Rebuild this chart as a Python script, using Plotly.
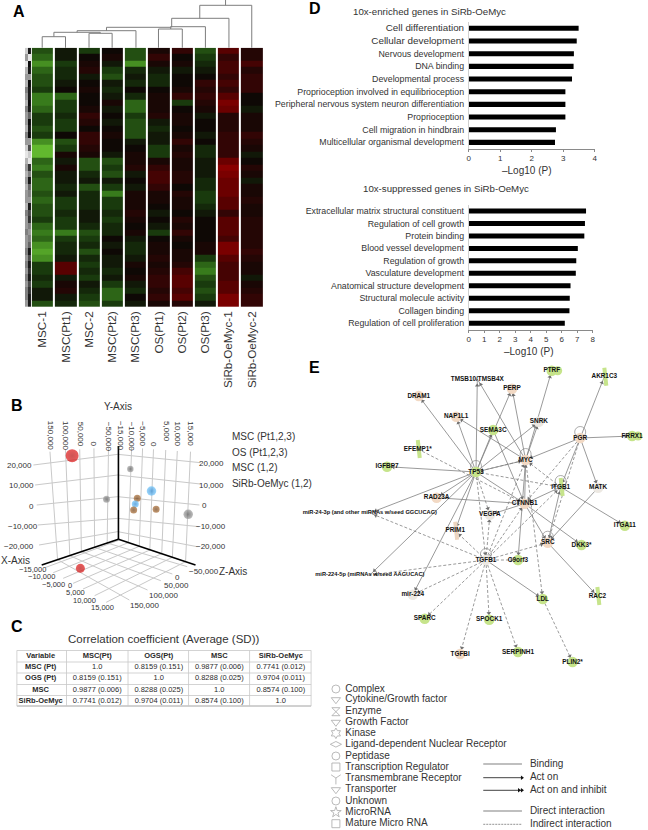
import math
import plotly.graph_objects as go

W, H = 648, 830
SANS = "Liberation Sans"
TXT = "#333333"

# ---------- Panel A ----------
sample_labels = ["MSC-1", "MSC(Pt1)", "MSC-2", "MSC(Pt2)", "MSC(Pt3)", "OS(Pt1)", "OS(Pt2)", "OS(Pt3)", "SiRb-OeMyc-1", "SiRb-OeMyc-2"]
col_msc1 = [-4,-5,-7,-5,-4,-4,-3,-6,-6,-5,-3,-3,-4,-3,-7,-9,-9,-5,-6,-4,-5,-5,-4,-5,-4,-4,-3,-5,-6,-5,-7,-8,-7,-3,-3,-2,-3,-1,-1,-4]
col_msc_pt1 = [-1,-1,-3,-2,-2,-1,0,-5,-3,-3,-2,-3,-3,0,-4,-3,1,-1,1,-1,-1,-2,-1,-3,-3,-2,-3,-3,-6,-3,-2,-2,-1,5,5,-1,1,2,-1,-2]
col_msc2 = [-3,0,1,2,-1,0,1,0,0,1,3,2,0,3,3,2,1,-4,-4,-2,-1,-4,-2,-2,-2,-1,-1,-2,-4,-3,-2,-4,-2,-3,-2,-3,-1,-2,-3,-4]
col_msc_pt2 = [0,1,-1,-3,-4,-1,-2,-1,1,-1,0,-1,0,1,0,0,-1,-4,-3,-4,-1,-3,-6,-3,-3,-2,-3,-2,-2,0,-1,0,-1,-1,-2,-1,-3,-5,-5,-3]
col_msc_pt3 = [-4,-4,-7,-2,-1,-2,0,-2,-5,-5,-3,-4,-4,-4,-1,0,1,1,2,-1,0,-1,1,1,1,2,1,0,1,-1,-2,-2,-1,1,0,1,-1,-2,0,-1]
col_os_pt1 = [1,3,1,-1,-2,-2,0,1,1,1,2,-1,-2,-1,-1,-3,-3,1,3,4,4,3,1,1,0,-1,0,-1,-3,0,1,1,2,1,2,3,3,2,3,1]
col_os_pt2 = [3,0,1,-1,0,0,1,3,-3,0,1,1,0,1,3,1,2,1,1,2,2,0,2,1,1,0,2,1,3,1,0,1,1,2,4,5,5,4,5,2]
col_os_pt3 = [-4,-3,-2,-1,0,3,2,3,2,1,-1,0,0,-1,0,-2,-2,-1,-1,-1,-2,-2,-3,-3,-2,-1,0,0,0,0,1,1,-3,-5,-6,-4,-3,-4,-3,-1]
col_sirb1 = [5,3,4,4,3,4,3,5,7,6,2,2,2,3,3,3,3,6,8,7,6,6,6,5,5,3,5,5,5,4,7,7,5,4,4,4,5,5,7,7]
col_sirb2 = [2,2,4,2,3,3,3,0,0,-1,1,1,1,3,2,1,-1,0,2,1,-1,1,1,2,1,1,2,2,2,2,2,3,2,1,1,-1,1,2,3,3]
columns = [col_msc1, col_msc_pt1, col_msc2, col_msc_pt2, col_msc_pt3, col_os_pt1, col_os_pt2, col_os_pt3, col_sirb1, col_sirb2]
strip_left = [.8,.6,.9,.7,.6,.7,.5,.6,.7,.5,.6,.6,.7,.5,.6,.8,.9,.7,.6,.7,.6,.7,.6,.6,.7,.5,.6,.6,.5,.6,.6,.5,.6,.5,.6,.5,.6,.5,.5,.6]
strip_right = [.1,.9,.05,.1,.6,.05,.1,.1,.05,.1,.4,.05,.1,.05,.6,.3,.8,.9,.2,.5,.1,.4,.5,.6,.1,.3,.2,.5,.6,.5,.4,.1,.3,.1,.2,.1,.3,.2,.1,.1]

# dendrogram merges: left x, right x, merge height, left base, right base
dend_merges = [
    (40.5, 64, 36.7, 47.7, 47.7),
    (87.7, 111, 33.3, 47.7, 47.7),
    (52.3, 99, 32.3, 36.7, 33.3),
    (75.7, 135, 30.7, 32.3, 47.7),
    (157.7, 181.7, 29, 47.7, 47.7),
    (170, 205, 26.7, 29, 47.7),
    (105.3, 170, 27.3, 30.7, 26.7),
    (171, 228.7, 18.3, 27.3, 47.7),
    (199.3, 251.7, 5.3, 18.3, 47.7),
]

# ---------- Panel B (coordinates are those of the projected view) ----------
pts_x = [212, 388, 316, 452, 409, 403, 398, 466, 563, 237]
pts_y = [197, 237, 328, 303, 325, 342, 360, 358, 373, 535]
pts_size = [13, 6.5, 7, 9.5, 7, 7, 7, 7, 9.5, 9]
pts_dark = ["#b80a0a", "#555555", "#555555", "#2a86d0", "#6d3c12", "#2a86d0", "#6d3c12", "#6d3c12", "#555555", "#b80a0a"]
pts_light = ["#e01616", "#a0a0a0", "#a0a0a0", "#70c4fa", "#a86a30", "#70c4fa", "#a86a30", "#a86a30", "#a0a0a0", "#e01616"]
grid_segments = [
    ((95,225),(350,193)), ((100,285),(350,255)), ((105,345),(350,320)), ((108,405),(350,385)), ((112,465),(350,425)),
    ((600,218),(350,193)), ((600,282),(350,255)), ((597,345),(350,320)), ((595,410),(350,385)), ((590,470),(350,425)),
    ((145,185),(168,509)), ((192,180),(205,497)), ((235,178),(240,485)), ((278,175),(280,472)), ((322,172),(318,459)),
    ((392,172),(382,458)), ((425,175),(415,469)), ((458,178),(447,480)), ((495,180),(483,491)), ((530,183),(515,502)), ((570,185),(555,515)),
    ((355,450),(130,533)), ((382,458),(155,548)), ((415,469),(185,565)), ((447,480),(215,580)), ((483,491),(245,597)), ((515,502),(280,617)), ((555,515),(315,637)),
    ((318,459),(560,530)), ((280,472),(515,552)), ((240,485),(480,572)), ((205,497),(440,600)), ((168,509),(385,630)),
]
axis_segments = [((352,168),(352,448)), ((352,448),(120,525)), ((352,448),(585,525))]
top_ticks = [("150,000",145), ("100,000",190), ("50,000",236), ("0",278), ("\u221250,000",322),
             ("\u221215,000",358), ("\u221210,000",392), ("\u22125,000",425), ("0",458), ("5,000",495), ("10,000",530), ("15,000",570)]
flat_ticks = [("20,000",52,225), ("10,000",58,285), ("0",90,348), ("\u221210,000",62,408), ("\u221220,000",50,470),
              ("20,000",632,220), ("10,000",632,285), ("0",612,345), ("\u221210,000",633,408), ("\u221220,000",633,470),
              ("\u221250,000",610,543), ("0",530,562), ("50,000",528,587), ("100,000",487,615), ("150,000",430,645)]
x_floor_ticks = [("\u221215,000",92,538), ("\u221210,000",120,560), ("\u22125,000",155,582), ("0",205,585), ("5,000",222,608), ("10,000",250,630), ("15,000",305,652)]
axis_names = [("Y-Axis",352,50), ("X-Axis",42,510), ("Z-Axis",697,543)]
b_legend = ["MSC (Pt1,2,3)", "OS (Pt1,2,3)", "MSC (1,2)", "SiRb-OeMyc (1,2)"]
b_legend_y = [437.7, 453, 468, 484]

# ---------- Panel C ----------
table_head = ["Variable", "MSC(Pt)", "OGS(Pt)", "MSC", "SiRb-OeMyc"]
table_row_names = ["MSC (Pt)", "OGS (Pt)", "MSC", "SiRb-OeMyc"]
table_values = [
    ["1.0", "0.8159 (0.151)", "0.9877 (0.006)", "0.7741 (0.012)"],
    ["0.8159 (0.151)", "1.0", "0.8288 (0.025)", "0.9704 (0.011)"],
    ["0.9877 (0.006)", "0.8288 (0.025)", "1.0", "0.8574 (0.100)"],
    ["0.7741 (0.012)", "0.9704 (0.011)", "0.8574 (0.100)", "1.0"],
]
table_cx = [39, 96, 158, 219, 281]
table_cy = [656, 667.5, 678.5, 690, 701]
table_hlines = [650.5, 662, 673, 684.5, 695.5, 706]
table_vlines = [15, 65, 127, 188, 249.5, 311.5]

# ---------- Panel D ----------
enriched_terms = ['<span style="font-size:9.8px">Cell differentiation</span>', '<span style="font-size:9.9px">Cellular development</span>', "Nervous development", "DNA binding", "Developmental process",
                  "Proprioception involved in equilibrioception", "Peripheral nervous system neuron differentiation", "Proprioception",
                  "Cell migration in hindbrain", "Multicellular organismal development"]
enriched_vals = [3.49, 3.43, 3.34, 3.33, 3.28, 3.07, 3.07, 3.07, 2.77, 2.74]
suppressed_terms = ["Extracellular matrix structural constituent", "Regulation of cell growth", "Protein binding", "Blood vessel development",
                    "Regulation of growth", "Vasculature development", "Anatomical structure development", "Structural molecule activity",
                    "Collagen binding", "Regulation of cell proliferation"]
suppressed_vals = [7.57, 7.5, 7.46, 7.04, 6.94, 6.91, 6.57, 6.52, 6.5, 6.2]

# ---------- Panel E ----------
G, P, L, N = "#c6e48b", "#f2d9c4", "#ece8e2", "rgba(255,255,255,0)"
nodes = {
    "PTRF": (554, 370.7, G), "AKR1C3": (607, 376.7, N), "TMSB10/TMSB4X": (479, 379, N), "PERP": (514, 388.7, P),
    "DRAM1": (420, 396, P), "NAP1L1": (457.7, 416.7, P), "SNRK": (541, 421.7, L), "SEMA3C": (495, 430, G),
    "PGR": (582.7, 438, P), "FRRX1": (635, 436, G), "EFEMP1*": (419, 449, N), "MYC": (527.7, 460, P),
    "IGFBP7": (388, 466.7, G), "TP53": (477.7, 472, G), "ITGB1": (563, 487, N), "MATK": (600.7, 487.7, L),
    "RAD23A": (438, 497.7, P), "CTNNB1": (526.7, 503.7, P), "miR-24-3p (and other miRNAs w/seed GGCUCAG)": (370.7, 513, N),
    "VEGFA": (491.7, 514.7, L), "ITGA11": (627.7, 525.7, G), "PRIM1": (456.7, 530.7, N), "SRC": (550, 542.7, P),
    "DKK3*": (584, 545, G), "TGFB1": (487.7, 560, L), "C9orf3": (520, 560, G),
    "miR-224-5p (miRNAs w/seed AAGUCAC)": (370.7, 575, N), "mir-224": (414, 594.7, L), "RAC2": (600, 596, N),
    "LDL": (545, 599, G), "SPARC": (426, 618.7, G), "SPOCK1": (491, 619.7, G), "TGFBI": (461.7, 654, P),
    "SERPINH1": (520, 652, G), "PLIN2*": (575, 662, G),
}
tall_nodes = {"AKR1C3": "#c6e48b", "EFEMP1*": "#c6e48b", "RAC2": "#c6e48b", "ITGB1": "#c6e48b", "PRIM1": "#ecd5c0"}
double_nodes = ["PTRF", "FRRX1"]
loop_nodes = ["TP53", "MYC", "PGR", "ITGB1", "TGFB1", "SRC"]
M24, M224 = "miR-24-3p (and other miRNAs w/seed GGCUCAG)", "miR-224-5p (miRNAs w/seed AAGUCAC)"
solid_edges = [("TP53","DRAM1"),("TP53","NAP1L1"),("TP53","TMSB10/TMSB4X"),("TP53","SEMA3C"),("TP53","PERP"),("TP53","SNRK"),("TP53","IGFBP7"),
    ("MYC","TMSB10/TMSB4X"),("MYC","PERP"),("MYC","NAP1L1"),("MYC","SNRK"),("MYC","PTRF"),("PGR","MYC"),("PGR","AKR1C3"),("PGR","FRRX1"),("PGR","MATK"),("PGR","ITGB1"),
    ("MYC","TP53"),("TP53","CTNNB1"),("TP53","RAD23A"),("TP53","PRIM1"),("TP53",M224),("TP53","mir-224"),("TP53",M24),
    ("RAD23A","CTNNB1"),("CTNNB1","MYC"),("ITGB1","CTNNB1"),("SRC","ITGB1"),("CTNNB1","SRC"),("ITGB1","ITGA11"),("MATK","SRC"),
    ("SEMA3C","CTNNB1"),("CTNNB1","VEGFA"),("TGFB1","LDL"),("MYC","C9orf3"),("SRC","RAC2"),("CTNNB1","DKK3*")]
dashed_edges = [("PGR","CTNNB1"),("PGR","SRC"),("TP53","ITGB1"),("TP53","VEGFA"),("TP53","TGFB1"),("ITGB1","MYC"),("EFEMP1*","CTNNB1"),
    ("TGFB1","CTNNB1"),("TGFB1","VEGFA"),("TGFB1","MYC"),("TGFB1","ITGB1"),("TGFB1","SRC"),("TGFB1","C9orf3"),("TGFB1","PRIM1"),("TGFB1",M24),("TGFB1",M224),
    ("TGFB1","mir-224"),("TGFB1","SPARC"),("TGFB1","TGFBI"),("TGFB1","SPOCK1"),("TGFB1","SERPINH1"),("LDL","PLIN2*"),("MYC","LDL"),("TP53","MYC")]

legend_left = ["Complex", "Cytokine/Growth factor", "Enzyme", "Growth Factor", "Kinase", "Ligand-dependent Nuclear Receptor", "Peptidase",
               "Transcription Regulator", "Transmembrane Receptor", "Transporter", "Unknown", "MicroRNA", "Mature Micro RNA"]
legend_left_y = [689, 699.7, 711.7, 722.3, 733.3, 744.3, 756, 767, 778, 789.7, 801, 812.3, 823.7]
legend_icons = ["circle-open", "triangle-down-open", "hourglass-open", "triangle-down-open", "hexagram-open", "diamond-wide-open", "circle-open",
                "square-open", "y-down-open", "triangle-down-open", "circle-open", "star-open", "square-open"]
legend_right = ["Binding", "Act on", "Act on and inhibit", "Direct interaction", "Indirect interaction"]
legend_right_y = [764, 777.7, 790.3, 811, 824.3]

panel_letters = [("A", 17, 11), ("B", 15, 405), ("C", 15, 626), ("D", 315, 8), ("E", 315, 367)]


def xdom(a, b):
    return [a / W, b / W]


def ydom(top, bottom):
    return [1 - bottom / H, 1 - top / H]


fig = go.Figure()
annos = []
shapes = []

green_red = [[0, "#62b82e"], [0.17, "#377a1c"], [0.35, "#16330c"], [0.5, "#0e0805"], [0.65, "#2c0505"], [0.83, "#6a0000"], [1, "#980000"]]
z = [[columns[c][r] for c in range(10)] for r in range(40)]
fig.add_trace(go.Heatmap(z=z, x=list(range(10)), y=list(range(40)), colorscale=green_red, zmin=-9, zmax=9, xgap=2, ygap=0,
                         showscale=False, hoverinfo="skip", xaxis="x2", yaxis="y2"))
fig.add_trace(go.Heatmap(z=[[strip_left[r], strip_right[r]] for r in range(40)], x0=-0.69, dx=0.128, y=list(range(40)),
                         colorscale=[[0, "#000000"], [1, "#ffffff"]], zmin=0, zmax=1, showscale=False, hoverinfo="skip", xaxis="x2", yaxis="y2"))

# dendrogram
dx, dy = [], []
for l, r, h, bl, br in dend_merges:
    dx += [l, l, r, r, None]
    dy += [bl, h, h, br, None]
fig.add_trace(go.Scatter(x=dx, y=dy, mode="lines", line=dict(color="#7d7d7d", width=1), hoverinfo="skip"))
fig.add_trace(go.Scatter(x=[225.3, 225.3], y=[0, 5.3], mode="lines", line=dict(color="#7d7d7d", width=1), hoverinfo="skip"))

# panel B
gx, gy = [], []
for a, b in grid_segments:
    gx += [a[0], b[0], None]
    gy += [a[1], b[1], None]
fig.add_trace(go.Scatter(x=gx, y=gy, mode="lines", line=dict(color="#c9c9c9", width=1), hoverinfo="skip", xaxis="x5", yaxis="y5"))
ax, ay = [], []
for a, b in axis_segments:
    ax += [a[0], b[0], None]
    ay += [a[1], b[1], None]
fig.add_trace(go.Scatter(x=ax, y=ay, mode="lines", line=dict(color="#000000", width=1.6), hoverinfo="skip", xaxis="x5", yaxis="y5"))
fig.add_trace(go.Scatter(x=pts_x, y=pts_y, mode="markers", hoverinfo="skip", xaxis="x5", yaxis="y5",
                         marker=dict(size=pts_size, color=pts_light, line=dict(width=0), gradient=dict(type="radial", color=pts_dark))))
for t, xv in top_ticks:
    annos.append(dict(text=t, x=xv, y=88 if len(t) > 2 else 150, xref="x5", yref="y5", textangle=90, xanchor="center", yanchor="top",
                      showarrow=False, font=dict(family=SANS, size=8, color=TXT)))
for t, xv, yv in flat_ticks:
    annos.append(dict(text=t, x=xv, y=yv, xref="x5", yref="y5", xanchor="center", yanchor="middle", showarrow=False,
                      font=dict(family=SANS, size=8, color=TXT)))
for t, xv, yv in x_floor_ticks:
    annos.append(dict(text=t, x=xv, y=yv, xref="x5", yref="y5", xanchor="center", yanchor="middle", showarrow=False,
                      font=dict(family=SANS, size=7.5, color=TXT)))
for t, xv, yv in axis_names:
    annos.append(dict(text=t, x=xv, y=yv, xref="x5", yref="y5", xanchor="center", yanchor="middle", showarrow=False,
                      font=dict(family=SANS, size=10, color=TXT)))
fig.add_trace(go.Scatter(x=[231.7] * 4, y=b_legend_y, text=b_legend, mode="text", textposition="middle right", hoverinfo="skip",
                         textfont=dict(family=SANS, size=10, color=TXT)))

# panel C
tx, ty, tt = [], [], []
for i, head in enumerate(table_head):
    tx.append(table_cx[i]); ty.append(table_cy[0]); tt.append("<b>" + head + "</b>")
for r, name in enumerate(table_row_names):
    tx.append(table_cx[0]); ty.append(table_cy[r + 1]); tt.append("<b>" + name + "</b>")
    for c, v in enumerate(table_values[r]):
        tx.append(table_cx[c + 1]); ty.append(table_cy[r + 1]); tt.append(v)
fig.add_trace(go.Scatter(x=tx, y=ty, text=tt, mode="text", textposition="middle center", hoverinfo="skip",
                         textfont=dict(family=SANS, size=7.5, color="#2a2a2a")))
for i, yv in enumerate(table_hlines):
    c = "#8c8c8c" if i == len(table_hlines) - 1 else "#c8c8c8"
    shapes.append(dict(type="line", xref="x", yref="y", x0=table_vlines[0], x1=table_vlines[-1], y0=yv, y1=yv, line=dict(color=c, width=0.8)))
for xv in table_vlines:
    shapes.append(dict(type="line", xref="x", yref="y", x0=xv, x1=xv, y0=table_hlines[0], y1=table_hlines[-1], line=dict(color="#c8c8c8", width=0.8)))
annos.append(dict(text="Correlation coefficient (Average (SD))", x=163, y=639, xref="x", yref="y", showarrow=False, xanchor="center", yanchor="middle",
                  font=dict(family=SANS, size=11.5, color=TXT)))

# panel D
fig.add_trace(go.Bar(x=enriched_vals, y=list(range(10)), orientation="h", width=0.4, marker=dict(color="#000000", line=dict(width=0)), hoverinfo="skip", xaxis="x3", yaxis="y3"))
fig.add_trace(go.Bar(x=suppressed_vals, y=list(range(10)), orientation="h", width=0.4, marker=dict(color="#000000", line=dict(width=0)), hoverinfo="skip", xaxis="x4", yaxis="y4"))
annos.append(dict(text="10x-enriched genes in SiRb-OeMyc", x=431, y=11.7, xref="x", yref="y", showarrow=False, font=dict(family=SANS, size=9.7, color=TXT)))
annos.append(dict(text="10x-suppressed genes in SiRb-OeMyc", x=447, y=188, xref="x", yref="y", showarrow=False, font=dict(family=SANS, size=9.7, color=TXT)))
annos.append(dict(text="\u2013Log10 (P)", x=529, y=170, xref="x", yref="y", showarrow=False, font=dict(family=SANS, size=10, color=TXT)))
annos.append(dict(text="\u2013Log10 (P)", x=531, y=351, xref="x", yref="y", showarrow=False, font=dict(family=SANS, size=10, color=TXT)))

# panel E edges
def edge_xy(edges):
    xs, ys = [], []
    for s, t in edges:
        xs += [nodes[s][0], nodes[t][0], None]
        ys += [nodes[s][1], nodes[t][1], None]
    return xs, ys


sx, sy = edge_xy(solid_edges)
fig.add_trace(go.Scatter(x=sx, y=sy, mode="lines", line=dict(color="#808080", width=0.8), hoverinfo="skip"))
ex, ey = edge_xy(dashed_edges)
fig.add_trace(go.Scatter(x=ex, y=ey, mode="lines", line=dict(color="#808080", width=0.8, dash="3px,2px"), hoverinfo="skip"))
arx, ary, ara = [], [], []
for s, t in solid_edges + dashed_edges:
    x1, y1, _ = nodes[s]
    x2, y2, _ = nodes[t]
    d = math.hypot(x2 - x1, y2 - y1)
    back = 6.5
    arx.append(x2 - (x2 - x1) * back / d)
    ary.append(y2 - (y2 - y1) * back / d)
    ara.append(math.degrees(math.atan2(x2 - x1, -(y2 - y1))))
fig.add_trace(go.Scatter(x=arx, y=ary, mode="markers", hoverinfo="skip", marker=dict(symbol="triangle-up", size=4, color="#707070", angle=ara, line=dict(width=0))))
fig.add_trace(go.Scatter(x=[nodes[n][0] for n in loop_nodes], y=[nodes[n][1] - 6 for n in loop_nodes], mode="markers", hoverinfo="skip",
                         marker=dict(symbol="circle-open", size=11, color="#8a8a8a", line=dict(width=0.7, color="#8a8a8a"))))
for n, c in tall_nodes.items():
    fig.add_trace(go.Scatter(x=[nodes[n][0], nodes[n][0] + 0.5, nodes[n][0] + 2], y=[nodes[n][1] - 9, nodes[n][1], nodes[n][1] + 9], mode="lines",
                             line=dict(color=c, width=4), hoverinfo="skip"))
names = list(nodes)
fig.add_trace(go.Scatter(x=[nodes[n][0] for n in names], y=[nodes[n][1] for n in names], mode="markers", hoverinfo="skip",
                         marker=dict(size=10.5, color=[nodes[n][2] for n in names], line=dict(width=0))))
fig.add_trace(go.Scatter(x=[nodes[n][0] + 6 for n in double_nodes], y=[nodes[n][1] for n in double_nodes], mode="markers", hoverinfo="skip",
                         marker=dict(size=9, color=G, line=dict(width=0))))
fig.add_trace(go.Scatter(x=[nodes[n][0] for n in names], y=[nodes[n][1] for n in names], text=["<b>" + n + "</b>" for n in names], mode="text",
                         textposition="middle center", hoverinfo="skip",
                         textfont=dict(family=SANS, size=[5.7 if len(n) > 14 else 6.4 for n in names], color="#111111")))

# panel E legend
fig.add_trace(go.Scatter(x=[336.5] * len(legend_left), y=legend_left_y, mode="markers", hoverinfo="skip",
                         marker=dict(symbol=legend_icons, size=8, color="#a8a8a8", line=dict(width=0.8, color="#a8a8a8"))))
fig.add_trace(go.Scatter(x=[346] * len(legend_left), y=legend_left_y, text=legend_left, mode="text", textposition="middle right", hoverinfo="skip",
                         textfont=dict(family=SANS, size=10, color=TXT)))
fig.add_trace(go.Scatter(x=[532] * 5, y=legend_right_y, text=legend_right, mode="text", textposition="middle right", hoverinfo="skip",
                         textfont=dict(family=SANS, size=10, color=TXT)))
for i, yv in enumerate(legend_right_y):
    color = "#111111" if i in (1, 2) else ("#aaaaaa" if i in (0, 3) else "#777777")
    width = 0.8 if i in (1, 2, 4) else 1.4
    fig.add_trace(go.Scatter(x=[485, 524], y=[yv, yv], mode="lines", hoverinfo="skip", line=dict(color=color, width=width, dash="2px,1px" if i == 4 else "solid")))
fig.add_trace(go.Scatter(x=[524, 524, 521], y=[legend_right_y[1], legend_right_y[2], legend_right_y[2]], mode="markers", hoverinfo="skip",
                         marker=dict(symbol="triangle-right", size=4, color="#111111", line=dict(width=0))))

for t, xv, yv in panel_letters:
    annos.append(dict(text="<b>" + t + "</b>", x=xv, y=yv, xref="x", yref="y", showarrow=False, font=dict(family=SANS, size=16, color="#000000")))

hidden = dict(visible=False, showgrid=False, zeroline=False)
bar_x = dict(showgrid=False, zeroline=False, showline=True, linecolor="#8a8a8a", linewidth=1, ticks="outside", ticklen=2, tickcolor="#8a8a8a", tickwidth=1,
             tickfont=dict(family=SANS, size=8, color=TXT))
bar_y = dict(showgrid=False, zeroline=False, showline=True, linecolor="#d0d0d0", linewidth=0.7, ticks="", range=[9.5, -0.5],
             tickvals=list(range(10)), tickfont=dict(family=SANS, size=8.8, color=TXT), ticklabelstandoff=2)

fig.update_layout(
    width=W, height=H, margin=dict(l=0, r=0, t=0, b=0), paper_bgcolor="white", plot_bgcolor="rgba(0,0,0,0)", showlegend=False,
    xaxis=dict(hidden, domain=[0, 1], range=[0, W]),
    yaxis=dict(hidden, domain=[0, 1], range=[H, 0]),
    xaxis2=dict(domain=xdom(23, 263.5), range=[-0.76, 9.5], anchor="y2", showgrid=False, zeroline=False, showline=False, ticks="",
                tickvals=list(range(10)), ticktext=sample_labels, tickangle=-90, tickfont=dict(family=SANS, size=11.7, color=TXT), ticklabelstandoff=1),
    yaxis2=dict(hidden, domain=ydom(47.7, 307), range=[39.5, -0.5], anchor="x2"),
    xaxis3=dict(bar_x, domain=xdom(470.3, 597.3), range=[0, 4], anchor="y3", tickvals=[0, 1, 2, 3, 4]),
    yaxis3=dict(bar_y, domain=ydom(22, 148.7), anchor="x3", ticktext=enriched_terms),
    xaxis4=dict(bar_x, domain=xdom(470.3, 595.3), range=[0, 8], anchor="y4", tickvals=list(range(9))),
    yaxis4=dict(bar_y, domain=ydom(204.7, 329.5), anchor="x4", ticktext=suppressed_terms),
    xaxis5=dict(hidden, domain=xdom(0, 300), range=[0, 900], anchor="y5"),
    yaxis5=dict(hidden, domain=ydom(390, 610), range=[660, 0], anchor="x5"),
    annotations=annos, shapes=shapes,
)
fig.write_html("out.html", post_script="document.body.style.margin='0';", config={"displayModeBar": False})
